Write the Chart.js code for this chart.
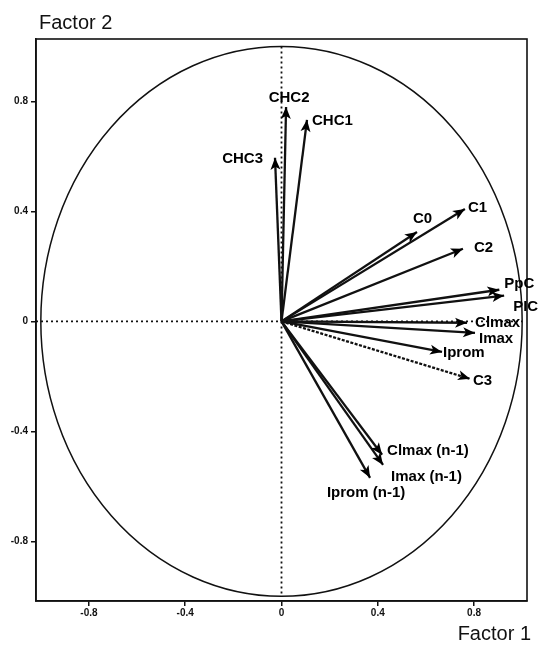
<!DOCTYPE html>
<html>
<head>
<meta charset="utf-8">
<script src="https://cdn.jsdelivr.net/npm/chart.js@4.4.1/dist/chart.umd.min.js"></script>
<style>
  html, body { margin: 0; padding: 0; background: #fff; }
  #wrap { width: 538px; height: 646px; }
</style>
</head>
<body>
<div id="wrap"><canvas id="factorChart" width="538" height="646"></canvas></div>
<script>
// variables and their loadings on the two factors
const varNames = ['CHC2', 'CHC1', 'CHC3', 'C0', 'C1', 'C2', 'PpC', 'PIC', 'Clmax', 'Imax', 'Iprom', 'C3', 'Clmax (n-1)', 'Imax (n-1)', 'Iprom (n-1)'];
const factor1 = [0.019, 0.106, -0.027, 0.563, 0.762, 0.754, 0.905, 0.925, 0.771, 0.804, 0.667, 0.783, 0.418, 0.422, 0.368];
const factor2 = [0.780, 0.733, 0.595, 0.325, 0.409, 0.264, 0.115, 0.094, -0.005, -0.042, -0.111, -0.209, -0.485, -0.522, -0.569];
const tickValues = [-0.8, -0.4, 0, 0.4, 0.8];
const tickLabels = ['-0.8', '-0.4', '0', '0.4', '0.8'];

// label placement relative to arrow tip (px): dx, dy, align
const labelPos = [
  [3, -5, 'center'], [5, 5, 'left'], [-12, 5, 'right'], [-4, -9, 'left'],
  [3, 3, 'left'], [11, 3, 'left'], [5, -2, 'left'], [9, 15, 'left'],
  [8, 4, 'left'], [4, 10, 'left'], [1, 5, 'left'], [3, 6, 'left'],
  [5, 0, 'left'], [8, 16, 'left'], [-4, 19, 'center']
];

const FONT = '"Liberation Sans", Arial, Helvetica, sans-serif';
const dashedVars = ['C3'];

const datasets = varNames.map((name, i) => ({
  label: name,
  data: [{ x: 0, y: 0 }, { x: factor1[i], y: factor2[i] }],
  showLine: true,
  borderColor: '#111',
  borderWidth: 2.3,
  borderDash: dashedVars.includes(name) ? [3, 1.5] : [],
  pointRadius: 0,
  fill: false
}));

const decoPlugin = {
  id: 'deco',
  beforeDatasetsDraw(chart) {
    const { ctx, chartArea: a, scales: { x, y } } = chart;
    ctx.save();
    // unit circle
    const cx = x.getPixelForValue(0), cy = y.getPixelForValue(0);
    const rx = x.getPixelForValue(1) - cx, ry = cy - y.getPixelForValue(1);
    ctx.beginPath();
    ctx.ellipse(cx, cy, rx, ry, 0, 0, Math.PI * 2);
    ctx.lineWidth = 1.5;
    ctx.strokeStyle = '#111';
    ctx.stroke();
    // dotted axes
    ctx.setLineDash([2, 3]);
    ctx.lineWidth = 1.8;
    ctx.beginPath();
    ctx.moveTo(a.left, cy);
    ctx.lineTo(x.getPixelForValue(1), cy);
    ctx.moveTo(cx, y.getPixelForValue(1));
    ctx.lineTo(cx, y.getPixelForValue(-1));
    ctx.stroke();
    ctx.setLineDash([]);
    // frame
    ctx.lineWidth = 1.6;
    ctx.strokeRect(a.left, a.top, a.right - a.left, a.bottom - a.top);
    ctx.restore();
  },
  afterDatasetsDraw(chart) {
    const ctx = chart.ctx;
    ctx.save();
    chart.data.datasets.forEach((ds, i) => {
      const pts = chart.getDatasetMeta(i).data;
      const x0 = pts[0].x, y0 = pts[0].y, x1 = pts[1].x, y1 = pts[1].y;
      const ang = Math.atan2(y1 - y0, x1 - x0);
      const len = 12, hw = 5, notch = 3;
      ctx.save();
      ctx.translate(x1, y1);
      ctx.rotate(ang);
      ctx.beginPath();
      ctx.moveTo(0, 0);
      ctx.lineTo(-len, -hw);
      ctx.lineTo(-len + notch, 0);
      ctx.lineTo(-len, hw);
      ctx.closePath();
      ctx.fillStyle = '#000';
      ctx.fill();
      ctx.restore();
      // label
      const p = labelPos[i];
      ctx.font = 'bold 15px ' + FONT;
      ctx.fillStyle = '#000';
      ctx.textAlign = p[2];
      ctx.textBaseline = 'alphabetic';
      ctx.fillText(ds.label, x1 + p[0], y1 + p[1]);
    });
    ctx.restore();
  },
  afterDraw(chart) {
    const ctx = chart.ctx;
    ctx.save();
    ctx.font = '20px ' + FONT;
    ctx.fillStyle = '#111';
    ctx.textBaseline = 'alphabetic';
    ctx.textAlign = 'left';
    ctx.fillText('Factor 2', 39, 29);
    ctx.textAlign = 'right';
    ctx.fillText('Factor 1', 531, 640);
    ctx.restore();
  }
};

const tickOpts = {
  color: '#111',
  font: { family: FONT, size: 10, weight: 'bold' },
  callback: (v) => tickLabels[tickValues.indexOf(v)] ?? ''
};

new Chart(document.getElementById('factorChart').getContext('2d'), {
  type: 'scatter',
  data: { datasets },
  options: {
    responsive: false,
    animation: false,
    layout: { padding: { top: 39, right: 11, left: 0, bottom: 0 } },
    plugins: { legend: { display: false }, tooltip: { enabled: false } },
    scales: {
      x: {
        type: 'linear',
        min: -1.02, max: 1.02,
        afterBuildTicks: (s) => { s.ticks = tickValues.map(v => ({ value: v })); },
        afterFit: (s) => { s.height = 45; },
        ticks: { ...tickOpts, padding: 1, maxRotation: 0, autoSkip: false },
        grid: { drawOnChartArea: false, drawTicks: true, tickLength: 5, color: '#111', lineWidth: 1.5 },
        border: { color: '#111', width: 1.6 }
      },
      y: {
        type: 'linear',
        min: -1.017, max: 1.027,
        afterBuildTicks: (s) => { s.ticks = tickValues.map(v => ({ value: v })); },
        afterFit: (s) => { s.width = 36; },
        ticks: { ...tickOpts, padding: 3, autoSkip: false },
        grid: { drawOnChartArea: false, drawTicks: true, tickLength: 5, color: '#111', lineWidth: 1.5 },
        border: { color: '#111', width: 1.6 }
      }
    }
  },
  plugins: [decoPlugin]
});
</script>
</body>
</html>
